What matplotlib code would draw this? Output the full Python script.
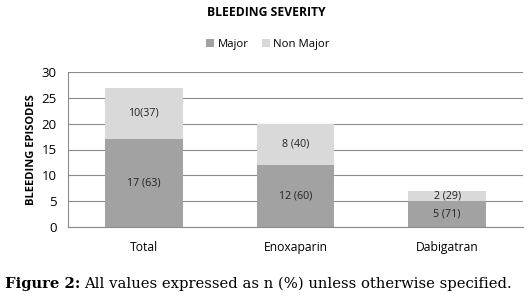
import matplotlib.pyplot as plt
import numpy as np

# data
groups = ['Total', 'Enoxaparin', 'Dabigatran']
major = [17, 12, 5]
non_major = [10, 8, 2]
major_lbl = ['17 (63)', '12 (60)', '5 (71)']
non_major_lbl = ['10(37)', '8 (40)', '2 (29)']

plt.rcParams['font.family'] = ['Open Sans', 'DejaVu Sans']

fig = plt.figure(figsize=(5.31, 2.99), dpi=100)
ax = fig.add_axes([68/531, 1-227/299, 455/531, 155/299])

x = np.arange(len(groups))
b1 = ax.bar(x, major, width=0.51, color='#a2a2a2', label='Major', zorder=2)
b2 = ax.bar(x, non_major, width=0.51, bottom=major, color='#d9d9d9', label='Non Major', zorder=2)

for i in range(len(groups)):
    ax.text(x[i], major[i] / 2, major_lbl[i], ha='center', va='center', fontsize=7.7, color='#222222')
    ax.text(x[i], major[i] + non_major[i] / 2, non_major_lbl[i], ha='center', va='center', fontsize=7.7, color='#222222')

ax.set_xlim(-0.5, 2.5)
ax.set_ylim(0, 30)
ax.set_yticks([0, 5, 10, 15, 20, 25, 30])
ax.set_xticks(x)
ax.set_xticklabels(groups, fontsize=8.7)
ax.tick_params(axis='y', labelsize=9.5, length=0, pad=8)
ax.tick_params(axis='x', length=0, pad=10)
ax.grid(axis='y', color='#8c8c8c', linewidth=0.8, zorder=0)
for s in ['top', 'right']:
    ax.spines[s].set_visible(False)
ax.spines['left'].set_color('#8c8c8c')
ax.spines['bottom'].set_color('#8c8c8c')
ax.set_ylabel('BLEEDING EPISODES', fontsize=8, fontweight='bold', labelpad=3)

fig.text(266/531, 1-12/299, 'BLEEDING SEVERITY', ha='center', va='center', fontsize=8.7, fontweight='bold')
fig.legend(handles=[b1, b2], loc='center', bbox_to_anchor=(268/531, 1-44/299), ncol=2, frameon=False,
           fontsize=8.2, handlelength=0.7, handleheight=0.7, columnspacing=1.2, handletextpad=0.3)

# caption below the chart
cap = fig.text(5/531, 1-288/299, 'Figure 2:', fontsize=10.6, fontweight='bold', family='DejaVu Serif', va='baseline')
ax.annotate('All values expressed as n (%) unless otherwise specified.', xy=(1, 0), xycoords=cap,
            xytext=(3, 0), textcoords='offset points', fontsize=10.6, family='DejaVu Serif',
            va='bottom', ha='left', annotation_clip=False)

plt.savefig('out.png', dpi=100)
